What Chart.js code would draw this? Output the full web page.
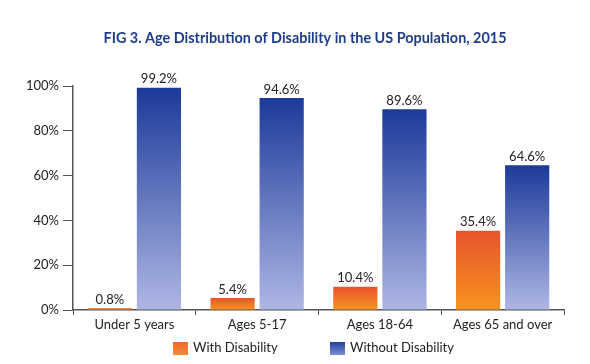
<!DOCTYPE html>
<html>
<head>
<meta charset="utf-8">
<script src="https://cdn.jsdelivr.net/npm/chart.js@4"></script>
<style>
  html, body { margin: 0; padding: 0; background: #fff; }
  #wrap { width: 590px; height: 364px; }
</style>
</head>
<body>
<div id="wrap"><canvas id="chart" width="590" height="364"></canvas></div>
<script>
const titleText = 'FIG 3. Age Distribution of Disability in the US Population, 2015';
const categories = ['Under 5 years', 'Ages 5-17', 'Ages 18-64', 'Ages 65 and over'];
const seriesNames = ['With Disability', 'Without Disability'];
const withDisability = [0.8, 5.4, 10.4, 35.4];
const withoutDisability = [99.2, 94.6, 89.6, 64.6];
const yTicks = [0, 20, 40, 60, 80, 100];

const FONT = 'Lato, "Open Sans", sans-serif';
const ORANGE = ['#e8532c', '#f7941f'];
const BLUE = ['#1c3a9a', '#aeb6e4'];

// gradient per bar, top colour -> bottom colour
function barGradient(cols) {
	return (ctx) => {
		const chart = ctx.chart;
		if (!chart.chartArea || ctx.parsed === undefined) return cols[1];
		const y = chart.scales.y;
		const y0 = y.getPixelForValue(ctx.parsed.y);
		const y1 = y.getPixelForValue(0);
		if (!isFinite(y0) || y1 - y0 < 1) return cols[0];
		const g = chart.ctx.createLinearGradient(0, y0, 0, y1);
		g.addColorStop(0, cols[0]);
		g.addColorStop(1, cols[1]);
		return g;
	};
}

const valueLabels = {
	id: 'valueLabels',
	afterDatasetsDraw(chart) {
		const c = chart.ctx;
		c.save();
		c.font = '13px ' + FONT;
		c.fillStyle = '#222';
		c.textAlign = 'center';
		c.textBaseline = 'bottom';
		chart.data.datasets.forEach((ds, i) => {
			chart.getDatasetMeta(i).data.forEach((bar, j) => {
				c.fillText(ds.data[j].toFixed(1) + '%', bar.x, bar.y - 2);
			});
		});
		c.restore();
	},
};

// title + legend drawn by hand so they can sit off-centre like the original
const titleAndLegend = {
	id: 'titleAndLegend',
	afterDraw(chart) {
		const c = chart.ctx;
		c.save();
		c.font = 'bold 14.4px ' + FONT;
		c.fillStyle = '#1d3c8c';
		c.textAlign = 'center';
		c.textBaseline = 'middle';
		c.fillText(titleText, 305, 38);

		const items = [
			{ x: 173, cols: ['#ec6a2b', '#f58a3a'] },
			{ x: 330, cols: ['#23409e', '#7f8fd2'] },
		];
		c.font = '13px ' + FONT;
		c.textAlign = 'left';
		items.forEach((it, i) => {
			const g = c.createLinearGradient(0, 342, 0, 355);
			g.addColorStop(0, it.cols[0]);
			g.addColorStop(1, it.cols[1]);
			c.fillStyle = g;
			c.fillRect(it.x, 342, 15, 13);
			c.fillStyle = '#222';
			c.fillText(chart.data.datasets[i].label, it.x + 20, 348);
		});
		c.restore();
	},
};

new Chart(document.getElementById('chart'), {
	type: 'bar',
	data: {
		labels: categories,
		datasets: [
			{
				label: seriesNames[0],
				data: withDisability,
				backgroundColor: barGradient(ORANGE),
				categoryPercentage: 0.8,
				barPercentage: 0.9,
			},
			{
				label: seriesNames[1],
				data: withoutDisability,
				backgroundColor: barGradient(BLUE),
				categoryPercentage: 0.8,
				barPercentage: 0.9,
			},
		],
	},
	options: {
		responsive: false,
		animation: false,
		layout: { padding: { left: 20, right: 26, top: 86, bottom: 33 } },
		plugins: {
			title: { display: false },
			legend: { display: false },
			tooltip: { enabled: false },
		},
		scales: {
			x: {
				afterFit(axis) {
					axis.height = 21;
				},
				grid: {
					display: true,
					drawOnChartArea: false,
					offset: true,
					tickLength: 5,
					color: '#555',
				},
				border: { color: '#555', width: 1.5 },
				ticks: { color: '#222', font: { family: FONT, size: 13 }, padding: 2 },
			},
			y: {
				min: 0,
				max: 100,
				afterBuildTicks(axis) {
					axis.ticks = yTicks.map((v) => ({ value: v }));
				},
				afterFit(axis) {
					axis.width = 53;
				},
				grid: {
					display: true,
					drawOnChartArea: false,
					tickLength: 10,
					color: '#555',
				},
				border: { color: '#555', width: 1.5 },
				ticks: {
					color: '#222',
					font: { family: FONT, size: 13 },
					padding: 4,
					callback: (v) => v + '%',
				},
			},
		},
	},
	plugins: [valueLabels, titleAndLegend],
});
</script>
</body>
</html>
